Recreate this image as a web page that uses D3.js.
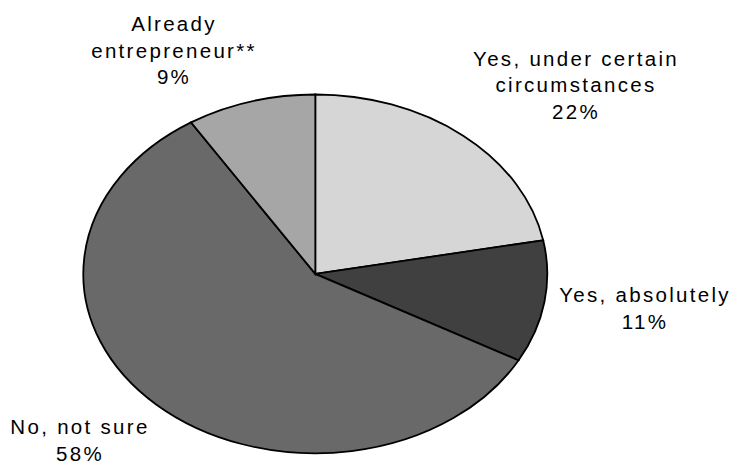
<!DOCTYPE html>
<html>
<head>
<meta charset="utf-8">
<script src="https://cdn.jsdelivr.net/npm/d3@7"></script>
<style>
  html, body { margin: 0; padding: 0; background: #ffffff; }
  svg { display: block; }
  text { font-family: "Liberation Sans", Arial, sans-serif; fill: #000; }
</style>
</head>
<body>
<svg id="chart" width="732" height="461"></svg>
<script>
// Data
const categories = ["Yes, under certain circumstances", "Yes, absolutely", "No, not sure", "Already entrepreneur**"];
const values = [22, 11, 58, 9];
const labelLines = [
  ["Yes, under certain", "circumstances", "22%"],
  ["Yes, absolutely", "11%"],
  ["No, not sure", "58%"],
  ["Already", "entrepreneur**", "9%"]
];
const colors = ["#d6d6d6", "#404040", "#696969", "#a6a6a6"];

// Layout
const W = 732, H = 461;
const cx = 315.3, cy = 273.9, rx = 232, ry = 179.4;
const labelPos = [
  { x: 576, y: 65.7 },
  { x: 645, y: 302.3 },
  { x: 80, y: 434.3 },
  { x: 174, y: 31 }
];
const lineH = 26.6;

const svg = d3.select("#chart");

const pie = d3.pie().sort(null).value(d => d)(values);
const arc = d3.arc().innerRadius(0).outerRadius(rx);

const g = svg.append("g")
  .attr("transform", `translate(${cx},${cy}) scale(1,${ry / rx})`);

g.selectAll("path.slice")
  .data(pie)
  .join("path")
  .attr("class", "slice")
  .attr("d", arc)
  .attr("fill", (d, i) => colors[i])
  .attr("stroke", "#000")
  .attr("stroke-width", 1.8)
  .attr("stroke-linejoin", "miter")
  .attr("vector-effect", "non-scaling-stroke");

const labels = svg.append("g");
labelLines.forEach((lines, i) => {
  const t = labels.append("text")
    .attr("text-anchor", "middle")
    .attr("font-size", 20.5)
    .attr("letter-spacing", 2.3);
  lines.forEach((ln, j) => {
    t.append("tspan")
      .attr("x", labelPos[i].x)
      .attr("y", labelPos[i].y + j * lineH)
      .text(ln);
  });
});
</script>
</body>
</html>
